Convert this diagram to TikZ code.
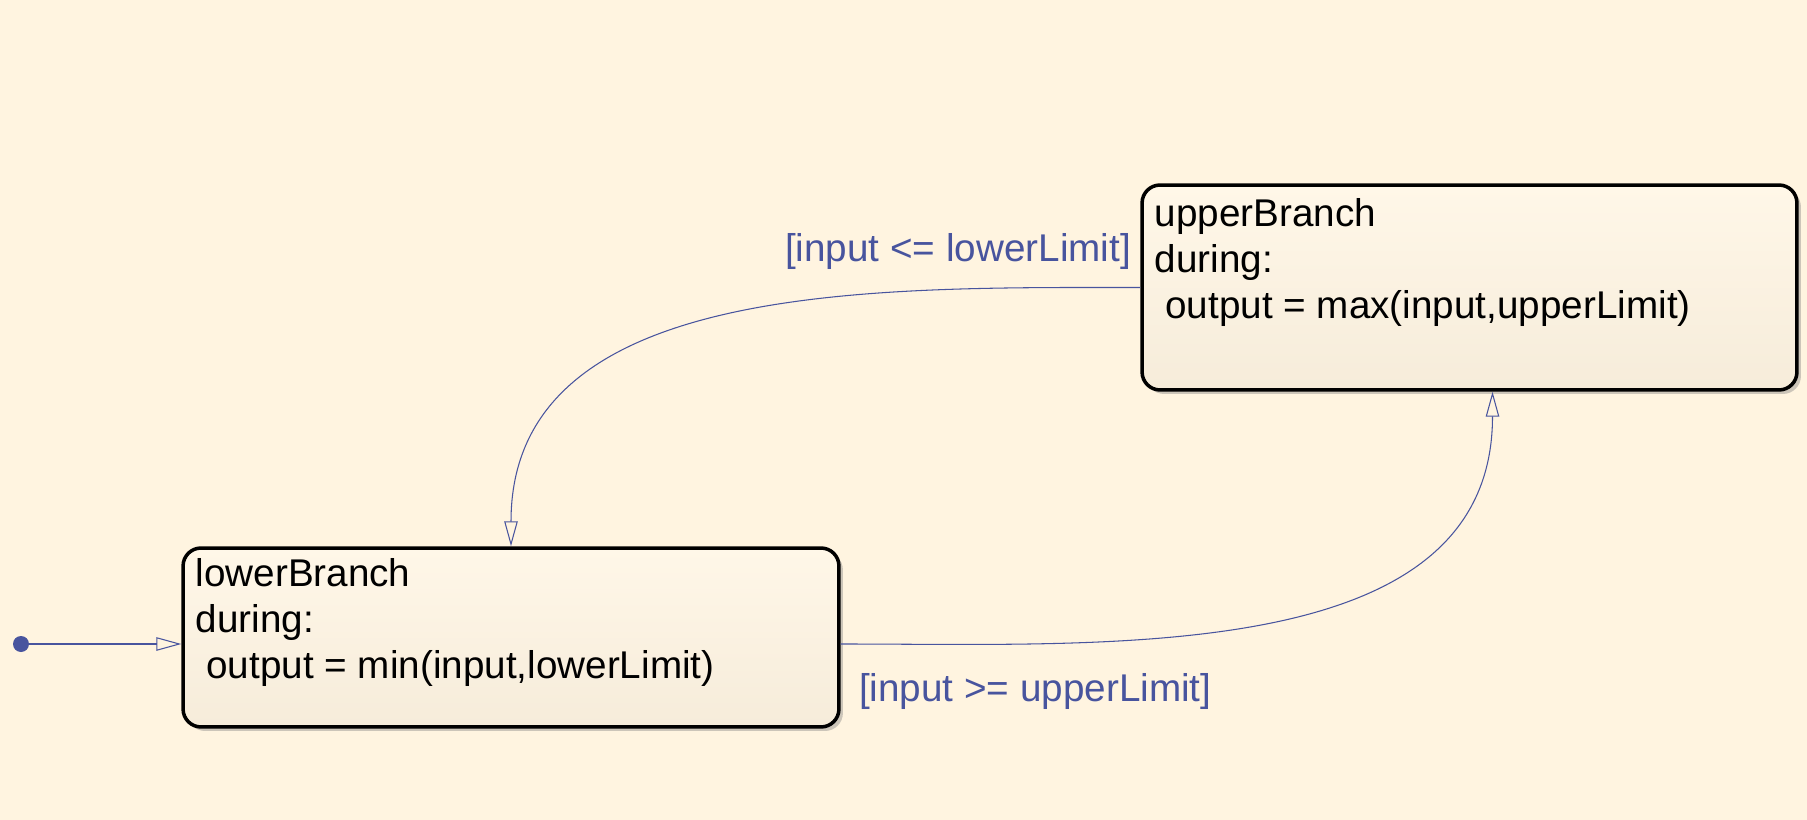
\documentclass[tikz,border=0pt]{standalone}
\usepackage{fontspec}
\setmainfont{Liberation Sans}
\usetikzlibrary{arrows.meta, calc, positioning, shadows}
\definecolor{chartbg}{RGB}{255,244,224}
\definecolor{statetop}{RGB}{255,247,232}
\definecolor{statebot}{RGB}{246,236,218}
\definecolor{transblue}{RGB}{72,84,158}
\tikzstyle{state} = [rectangle, rounded corners=0.36cm, draw=black, line width=2pt, top color=statetop, bottom color=statebot, drop shadow={shadow xshift=0.08cm, shadow yshift=-0.08cm, opacity=0.4}, inner sep=0pt]
\tikzstyle{statetext} = [anchor=north west, align=left, inner sep=0pt, font=\fontsize{22}{26.2}\selectfont]
\tikzstyle{guard} = [inner sep=0pt, text=transblue, font=\fontsize{22}{26.2}\selectfont]
\tikzstyle{trans} = [draw=transblue, line width=0.6pt, -{Triangle[open, length=0.5cm, width=0.27cm]}]
\tikzstyle{initdot} = [circle, fill=transblue, inner sep=0pt, minimum size=0.32cm]

\begin{document}
\begin{tikzpicture}[x=0.02cm, y=-0.02cm]
\useasboundingbox (0,0) rectangle (1807,820);
\fill[chartbg] (0,0) rectangle (1807,820);

  % states
  \node[state, minimum width=13.1cm, minimum height=4.1cm] (upper) at (1469.5,287.5) {};
  \node[statetext] (uppertext) at ($(upper.north west)+(14,15)$) {upperBranch\\during:\\\hspace*{0.28em}output = max(input,upperLimit)};

  \node[state, minimum width=13.12cm, minimum height=3.58cm] (lower) at (511,637.5) {};
  \node[statetext] (lowertext) at ($(lower.north west)+(14,12)$) {lowerBranch\\during:\\\hspace*{0.28em}output = min(input,lowerLimit)};

  % default transition
  \node[initdot] (init) at (21,644) {};
  \draw[trans] (init) -- (init -| lower.west);

  % transitions
  \draw[trans] (upper.west) to[out=180, in=90] (lower.north);
  \node[guard, anchor=east] (guarddown) at ($(upper.west)+(-9,-35.5)$) {[input <= lowerLimit]};

  \draw[trans] ([yshift=-0.13cm]lower.east) to[out=0, in=270] ([xshift=0.46cm]upper.south);
  \node[guard, anchor=west] (guardup) at ($(lower.east)+(18,54.5)$) {[input >= upperLimit]};

\end{tikzpicture}
\end{document}
